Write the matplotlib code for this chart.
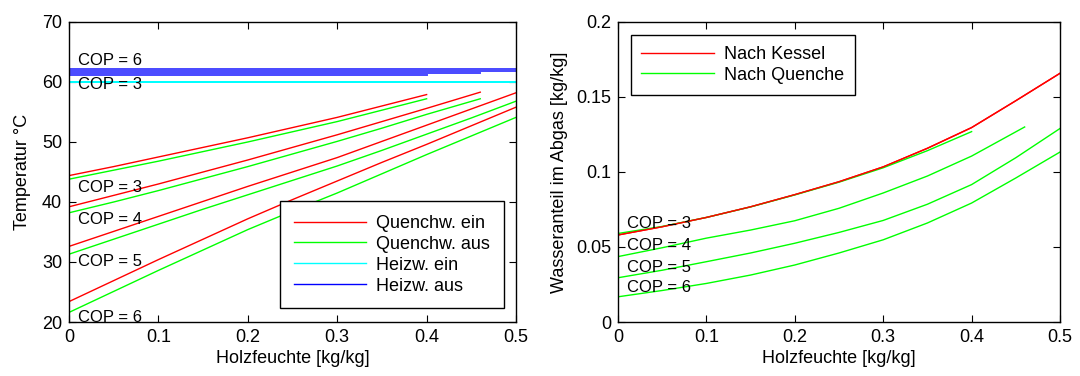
import matplotlib
matplotlib.use('Agg')
import matplotlib.pyplot as plt

plt.rcParams['font.family'] = ['Liberation Sans', 'DejaVu Sans']
plt.rcParams['font.size'] = 13

# Holzfeuchte-Stuetzstellen je COP-Kurve
x_cop3 = [0, 0.05, 0.1, 0.15, 0.2, 0.25, 0.3, 0.35, 0.4]
x_cop4 = [0, 0.05, 0.1, 0.15, 0.2, 0.25, 0.3, 0.35, 0.4, 0.46]
x_cop5 = [0, 0.05, 0.1, 0.15, 0.2, 0.25, 0.3, 0.35, 0.4, 0.45, 0.5]
x_cop6 = [0, 0.05, 0.1, 0.15, 0.2, 0.25, 0.3, 0.35, 0.4, 0.45, 0.5]

# Temperaturen Quenchwasser ein / aus
qe_cop3 = [44.4, 45.9, 47.5, 49.1, 50.7, 52.4, 54.1, 56.0, 57.9]
qa_cop3 = [43.8, 45.3, 46.8, 48.4, 50.0, 51.7, 53.4, 55.3, 57.2]
qe_cop4 = [39.2, 41.1, 43.0, 45.0, 47.0, 49.1, 51.2, 53.4, 55.6, 58.3]
qa_cop4 = [38.2, 40.0, 41.9, 43.9, 45.9, 48.0, 50.1, 52.3, 54.6, 57.2]
qe_cop5 = [32.6, 35.1, 37.6, 40.1, 42.6, 45.0, 47.4, 50.1, 52.8, 55.5, 58.2]
qa_cop5 = [31.3, 33.8, 36.3, 38.8, 41.2, 43.6, 46.0, 48.6, 51.3, 54.0, 56.8]
qe_cop6 = [23.4, 26.9, 30.4, 33.8, 37.2, 40.4, 43.5, 46.6, 49.6, 52.7, 55.8]
qa_cop6 = [21.6, 25.1, 28.6, 32.0, 35.4, 38.5, 41.5, 44.7, 47.9, 51.0, 54.1]

# Heizwasser ein / aus (konstant)
heiz_ein = [60.0, 60.0, 60.0, 60.0]
heiz_aus = [61.2, 61.5, 61.8, 62.1]
heiz_xend = [0.4, 0.46, 0.5, 0.5]

# Wasseranteil im Abgas
wk_x = [0, 0.05, 0.1, 0.15, 0.2, 0.25, 0.3, 0.35, 0.4, 0.45, 0.5]
wk_kessel = [0.058, 0.0635, 0.0697, 0.0768, 0.0849, 0.0935, 0.1034, 0.1158, 0.1296, 0.1475, 0.1658]
wq_cop3 = [0.059, 0.0637, 0.0697, 0.0767, 0.0847, 0.0932, 0.1028, 0.1142, 0.1269]
wq_cop4 = [0.0436, 0.0495, 0.0559, 0.0613, 0.0675, 0.0758, 0.086, 0.0973, 0.1106, 0.130]
wq_cop5 = [0.0295, 0.0345, 0.0402, 0.046, 0.0525, 0.0597, 0.0677, 0.0785, 0.0916, 0.1095, 0.129]
wq_cop6 = [0.0168, 0.021, 0.0257, 0.0313, 0.038, 0.046, 0.0548, 0.066, 0.0793, 0.096, 0.1133]

fig = plt.figure(figsize=(10.8, 3.76), dpi=100)
ax1 = fig.add_axes([0.0639, 0.1436, 0.4139, 0.798])
ax2 = fig.add_axes([0.5722, 0.1436, 0.4093, 0.798])

lw = 1.0
for xs, qe, qa in [(x_cop3, qe_cop3, qa_cop3), (x_cop4, qe_cop4, qa_cop4),
                   (x_cop5, qe_cop5, qa_cop5), (x_cop6, qe_cop6, qa_cop6)]:
    l1, = ax1.plot(xs, qe, color='#ff0000', lw=lw)
    l2, = ax1.plot(xs, qa, color='#00ff00', lw=lw)
for xe, te, ta in zip(heiz_xend, heiz_ein, heiz_aus):
    ax1.plot([0, xe], [te, te], color='#00ffff', lw=1.3)
    ax1.plot([0, xe], [ta, ta], color='#4848ff', lw=1.4)
# duenne Legendenlinien fuer Heizwasser
l3, = ax1.plot([], [], color='#00ffff', lw=lw)
l4, = ax1.plot([], [], color='#0000ff', lw=lw)

cop_fs = 12
ax1.text(0.01, 63.6, 'COP = 6', va='center', fontsize=cop_fs)
ax1.text(0.01, 59.6, 'COP = 3', va='center', fontsize=cop_fs)
ax1.text(0.01, 42.4, 'COP = 3', va='center', fontsize=cop_fs)
ax1.text(0.01, 37.0, 'COP = 4', va='center', fontsize=cop_fs)
ax1.text(0.01, 30.0, 'COP = 5', va='center', fontsize=cop_fs)
ax1.text(0.01, 20.8, 'COP = 6', va='center', fontsize=cop_fs)

ax1.set_xlim(0, 0.5)
ax1.set_ylim(20, 70)
ax1.set_xticks([0, 0.1, 0.2, 0.3, 0.4, 0.5])
ax1.set_xticklabels(['0', '0.1', '0.2', '0.3', '0.4', '0.5'])
ax1.set_yticks([20, 30, 40, 50, 60, 70])
ax1.set_xlabel('Holzfeuchte [kg/kg]', labelpad=3)
ax1.set_ylabel('Temperatur °C', labelpad=8)
leg1 = ax1.legend([l1, l2, l3, l4], ['Quenchw. ein', 'Quenchw. aus', 'Heizw. ein', 'Heizw. aus'],
                  loc='lower right', bbox_to_anchor=(0.972, 0.0457), borderaxespad=0,
                  fancybox=False, edgecolor='black', framealpha=1, handlelength=4.0,
                  handletextpad=0.55, borderpad=0.75, labelspacing=0.22)
leg1.get_frame().set_linewidth(1.0)

k, = ax2.plot(wk_x, wk_kessel, color='#ff0000', lw=lw)
for xs, wq in [(x_cop3, wq_cop3), (x_cop4, wq_cop4), (x_cop5, wq_cop5), (x_cop6, wq_cop6)]:
    q, = ax2.plot(xs, wq, color='#00ff00', lw=lw)
ax2.plot(wk_x, wk_kessel, color='#ff0000', lw=lw)

ax2.text(0.01, 0.0655, 'COP = 3', va='center', fontsize=cop_fs)
ax2.text(0.01, 0.0507, 'COP = 4', va='center', fontsize=cop_fs)
ax2.text(0.01, 0.0364, 'COP = 5', va='center', fontsize=cop_fs)
ax2.text(0.01, 0.0230, 'COP = 6', va='center', fontsize=cop_fs)

ax2.set_xlim(0, 0.5)
ax2.set_ylim(0, 0.2)
ax2.set_xticks([0, 0.1, 0.2, 0.3, 0.4, 0.5])
ax2.set_xticklabels(['0', '0.1', '0.2', '0.3', '0.4', '0.5'])
ax2.set_yticks([0, 0.05, 0.1, 0.15, 0.2])
ax2.set_yticklabels(['0', '0.05', '0.1', '0.15', '0.2'])
ax2.set_xlabel('Holzfeuchte [kg/kg]', labelpad=3)
ax2.set_ylabel('Wasseranteil im Abgas [kg/kg]', labelpad=6)
leg2 = ax2.legend([k, q], ['Nach Kessel', 'Nach Quenche'], loc='upper left',
                  bbox_to_anchor=(0.0287, 0.9565), borderaxespad=0, fancybox=False,
                  edgecolor='black', framealpha=1, handlelength=4.0, handletextpad=0.55,
                  borderpad=0.6, labelspacing=0.22)
leg2.get_frame().set_linewidth(1.0)

for ax in (ax1, ax2):
    ax.tick_params(direction='in', top=True, right=True, length=5, width=0.8, pad=5)
    for s in ax.spines.values():
        s.set_linewidth(1.0)

fig.savefig('out.png', dpi=100)
